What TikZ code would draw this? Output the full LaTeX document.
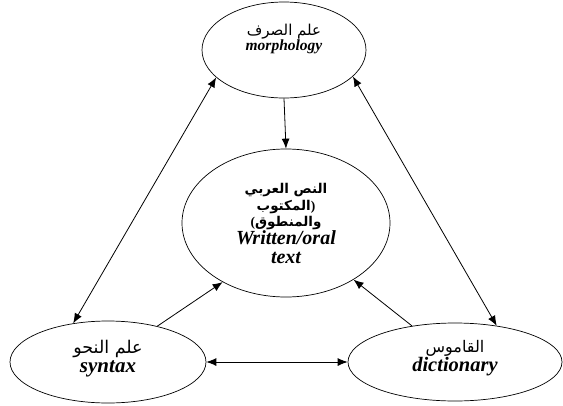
\documentclass[tikz,border=0pt]{standalone}
\usepackage{fontspec}
\setmainfont{Liberation Serif}
\newfontfamily\arabicfont[Script=Arabic]{DejaVu Sans}
\TeXXeTstate=1
\usetikzlibrary{shapes.geometric,arrows.meta}

\newcommand{\artxt}[1]{{\arabicfont\beginR #1\endR}}
\newcommand{\arword}[1]{\hbox{\arabicfont #1}}
\newcommand{\entxt}[1]{{\bfseries\itshape #1}}
\newcommand{\tightskip}{\lineskiplimit=-20pt\relax}

\tikzset{
  topic/.style={draw, ellipse, inner sep=0pt, align=center, line width=0.7pt},
  link/.style={line width=0.8pt, -{Latex[length=10pt,width=8pt]}},
  twoway/.style={line width=0.8pt, {Latex[length=10pt,width=8pt]}-{Latex[length=10pt,width=8pt]}},
}

\begin{document}
\begin{tikzpicture}[x=1pt,y=-1pt]
    \useasboundingbox (0,0) rectangle (563,405);
    % the four ellipses
    \node[topic, minimum width=164pt, minimum height=96pt, text depth=25pt,
          font=\fontsize{15.5}{15}\selectfont\tightskip] (morph) at (284,50)
        {{\fontsize{15}{15}\selectfont\artxt{علم الصرف}}\\ \entxt{morphology}};
    \node[topic, minimum width=208pt, minimum height=148pt,
          font=\fontsize{20}{18}\selectfont\tightskip] (text) at (286,223)
        {{\fontsize{13.5}{18}\selectfont\bfseries\artxt{النص العربي}}\\[-1pt]
         {\fontsize{13.5}{16}\selectfont\bfseries \hbox{\arword{المكتوب}\hbox{)}}}\\[-2pt]
         {\fontsize{13.5}{16}\selectfont\bfseries \hbox{\hbox{(}\arword{والمنطوق}}}\\
         \entxt{Written/oral}\\[1pt] \entxt{text}};
    \node[topic, minimum width=196pt, minimum height=82pt, text depth=12pt,
          font=\fontsize{21}{19}\selectfont\tightskip] (syntax) at (108,362)
        {{\fontsize{17.5}{19}\selectfont\artxt{علم النحو}}\\ \entxt{syntax}};
    \node[topic, minimum width=214pt, minimum height=78pt, text depth=12pt,
          font=\fontsize{20.5}{19}\selectfont\tightskip] (dict) at (455,362)
        {{\fontsize{16}{19}\selectfont\arword{القاموس}}\\ \entxt{dictionary}};
    % connectors
    \draw[link] (morph.south) -- (text.north);
    \draw[twoway] (morph.202) -- (syntax.132);
    \draw[twoway] (morph.339) -- (dict.41);
    \draw[link] (syntax.36) -- (text.223);
    \draw[link] (dict.140) -- (text.320);
    \draw[twoway] (syntax.east) -- (dict.west);
\end{tikzpicture}
\end{document}
